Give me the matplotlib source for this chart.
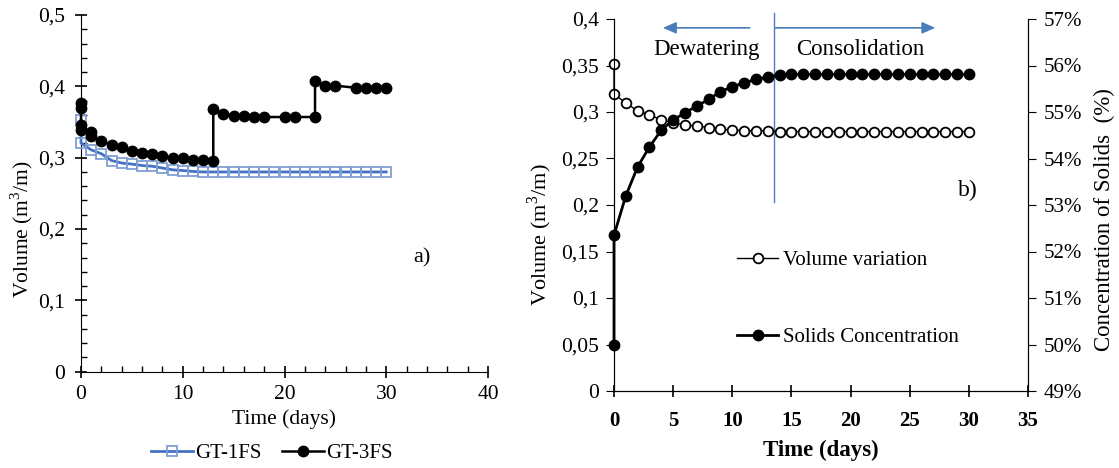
import matplotlib
matplotlib.use("Agg")
import matplotlib.pyplot as plt
from matplotlib.ticker import MultipleLocator, FuncFormatter

plt.rcParams['font.family'] = ['Liberation Serif', 'DejaVu Serif']
plt.rcParams['mathtext.fontset'] = 'custom'
plt.rcParams['mathtext.rm'] = 'Liberation Serif'

# ---------------- data: panel a) ----------------
t_1fs = [0, 0, 1, 2, 3, 4, 5, 6, 7, 8, 9, 10, 11, 12, 13, 14, 15, 16, 17, 18, 19,
         20, 21, 22, 23, 24, 25, 26, 27, 28, 29, 30]
v_1fs = [0.353, 0.3205, 0.311, 0.3055, 0.296, 0.2925, 0.291, 0.289, 0.288, 0.2855,
         0.283, 0.282, 0.2807, 0.280, 0.280, 0.280, 0.280, 0.280, 0.280, 0.280, 0.280,
         0.280, 0.280, 0.280, 0.280, 0.280, 0.280, 0.280, 0.280, 0.280, 0.280, 0.280]

t_3fs = [0, 0, 0, 0, 1, 1, 2, 3, 4, 5, 6, 7, 8, 9, 10, 11, 12, 13, 13, 14, 15, 16, 17,
         18, 20, 21, 23, 23, 24, 25, 27, 28, 29, 30]
v_3fs = [0.377, 0.370, 0.346, 0.339, 0.336, 0.330, 0.323, 0.318, 0.315, 0.309, 0.306,
         0.305, 0.302, 0.300, 0.299, 0.297, 0.297, 0.296, 0.368, 0.361, 0.359, 0.359,
         0.357, 0.357, 0.357, 0.357, 0.357, 0.407, 0.401, 0.401, 0.398, 0.398, 0.398, 0.398]

labels_a = ["GT-1FS", "GT-3FS"]

# ---------------- data: panel b) ----------------
t_b = [0, 0, 1, 2, 3, 4, 5, 6, 7, 8, 9, 10, 11, 12, 13, 14, 15, 16, 17, 18, 19, 20,
       21, 22, 23, 24, 25, 26, 27, 28, 29, 30]
volume_b = [0.352, 0.319, 0.310, 0.301, 0.297, 0.2915, 0.2886, 0.286, 0.285, 0.283,
            0.2814, 0.2806, 0.280, 0.280, 0.2796, 0.279, 0.279, 0.279, 0.279, 0.279,
            0.279, 0.279, 0.279, 0.279, 0.279, 0.279, 0.279, 0.279, 0.279, 0.279,
            0.279, 0.279]
solids_b = [50.0, 52.35, 53.2, 53.82, 54.25, 54.61, 54.83, 54.98, 55.13, 55.27, 55.44,
            55.54, 55.63, 55.70, 55.75, 55.80, 55.81, 55.81, 55.81, 55.81, 55.81, 55.81,
            55.81, 55.81, 55.81, 55.81, 55.81, 55.81, 55.81, 55.81, 55.81, 55.81]
labels_b = ["Volume variation", "Solids Concentration"]
phase_split = 13.5
phase_labels = ["Dewatering", "Consolidation"]

BLUE = "#4472c4"
LBLUE = "#7f9fd3"
ARROW = "#4a7ebb"

fig = plt.figure(figsize=(11.19, 4.68), dpi=100)
W, H = 1119, 468

def comma_fmt(v, pos):
    if abs(v) < 1e-9:
        return "0"
    s = f"{v:.2f}".rstrip('0').rstrip('.')
    return s.replace('.', ',')

# ---------------- panel a ----------------
ax1 = fig.add_axes([81 / W, 1 - 371.7 / H, (488 - 81) / W, (371.7 - 15) / H])
ax1.plot(t_1fs, v_1fs, color=BLUE, lw=2, marker='s', ms=7.5, mfc='none',
         mec=LBLUE, mew=1.3, label=labels_a[0], clip_on=False, zorder=3)
ax1.plot(t_3fs, v_3fs, color='black', lw=1.8, marker='o', ms=7.5, mfc='black',
         mec='black', label=labels_a[1], clip_on=False, zorder=4)
ax1.set_xlim(0, 40)
ax1.set_ylim(0, 0.5)
ax1.spines['top'].set_visible(False)
ax1.spines['right'].set_visible(False)
ax1.xaxis.set_major_locator(MultipleLocator(10))
ax1.xaxis.set_minor_locator(MultipleLocator(2))
ax1.yaxis.set_major_locator(MultipleLocator(0.1))
ax1.yaxis.set_minor_locator(MultipleLocator(0.02))
ax1.yaxis.set_major_formatter(FuncFormatter(comma_fmt))
ax1.tick_params(which='major', direction='inout', length=9, width=1.2, labelsize=15.5)
ax1.tick_params(axis='y', which='major', pad=7)
ax1.tick_params(axis='x', which='major', pad=5)
ax1.tick_params(which='minor', direction='in', length=4, width=1)
ax1.set_xlabel("Time (days)", fontsize=15.5, labelpad=4)
ax1.set_ylabel("Volume (m$^3$/m)", fontsize=15.5)
ax1.yaxis.set_label_coords(-0.112, 0.40)
ax1.text(33.5, 0.16, "a)", fontsize=16, ha='center', va='center')
ax1.legend(loc='center', bbox_to_anchor=(272 / W, 1 - 453 / H),
           bbox_transform=fig.transFigure, ncol=2, frameon=False, fontsize=15,
           handlelength=2.0, handletextpad=0.1, columnspacing=1.0)

# ---------------- panel b ----------------
ax2 = fig.add_axes([614 / W, 1 - 391 / H, (1028 - 614) / W, (391 - 19) / H])
ax3 = ax2.twinx()
l1, = ax2.plot(t_b, volume_b, color='black', lw=1, marker='o', ms=7, mfc='white',
               mec='black', mew=1.3, clip_on=False, zorder=3, label=labels_b[0])
l2, = ax3.plot(t_b, solids_b, color='black', lw=2, marker='o', ms=7.5, mfc='black',
               mec='black', clip_on=False, zorder=3, label=labels_b[1])
ax2.set_xlim(0, 35)
ax2.set_ylim(0, 0.4)
ax3.set_ylim(49, 57)
ax2.xaxis.set_major_locator(MultipleLocator(5))
ax2.yaxis.set_major_locator(MultipleLocator(0.05))
ax2.yaxis.set_major_formatter(FuncFormatter(comma_fmt))
ax3.yaxis.set_major_locator(MultipleLocator(1))
ax3.yaxis.set_major_formatter(FuncFormatter(lambda v, p: f"{v:.0f}%"))
for a in (ax2, ax3):
    a.spines['top'].set_visible(False)
ax2.tick_params(axis='y', direction='out', length=6, labelsize=15.5, pad=5)
ax2.tick_params(axis='x', direction='inout', length=9, width=1.2, labelsize=15, pad=10)
for lab in ax2.get_xticklabels():
    lab.set_fontweight('bold')
ax3.tick_params(axis='y', direction='out', length=6, labelsize=15, pad=5)
ax2.set_xlabel("Time (days)", fontsize=16.5, fontweight='bold', labelpad=6)
ax2.set_ylabel("Volume (m$^3$/m)", fontsize=16)
ax2.yaxis.set_label_coords(-0.145, 0.42)
ax3.set_ylabel("Concentration of Solids  (%)", fontsize=16.5)
ax3.yaxis.set_label_coords(1.158, 0.46)

# phase separation line and arrows
ax2.plot([phase_split, phase_split], [0.203, 0.4065], color=ARROW, lw=1,
         clip_on=False, zorder=2)
ax2.annotate("", xy=(3.9, 0.3905), xytext=(11.7, 0.3905),
             arrowprops=dict(arrowstyle='-|>,head_length=0.8,head_width=0.35',
                             color=ARROW, lw=1.2), annotation_clip=False)
ax2.annotate("", xy=(27.4, 0.3905), xytext=(13.4, 0.3905),
             arrowprops=dict(arrowstyle='-|>,head_length=0.8,head_width=0.35',
                             color=ARROW, lw=1.2), annotation_clip=False)
ax2.text(7.8, 0.367, phase_labels[0], fontsize=16.5, ha='center', va='center')
ax2.text(20.8, 0.367, phase_labels[1], fontsize=16.5, ha='center', va='center')
ax2.text(29.9, 0.216, "b)", fontsize=17, ha='center', va='center')

ax3.legend(handles=[l1, l2], loc='upper left', bbox_to_anchor=(718 / W, 1 - 232 / H),
           bbox_transform=fig.transFigure, frameon=False, fontsize=15,
           handlelength=2.0, handletextpad=0.2, labelspacing=2.75)

fig.savefig("out.png", dpi=100)
